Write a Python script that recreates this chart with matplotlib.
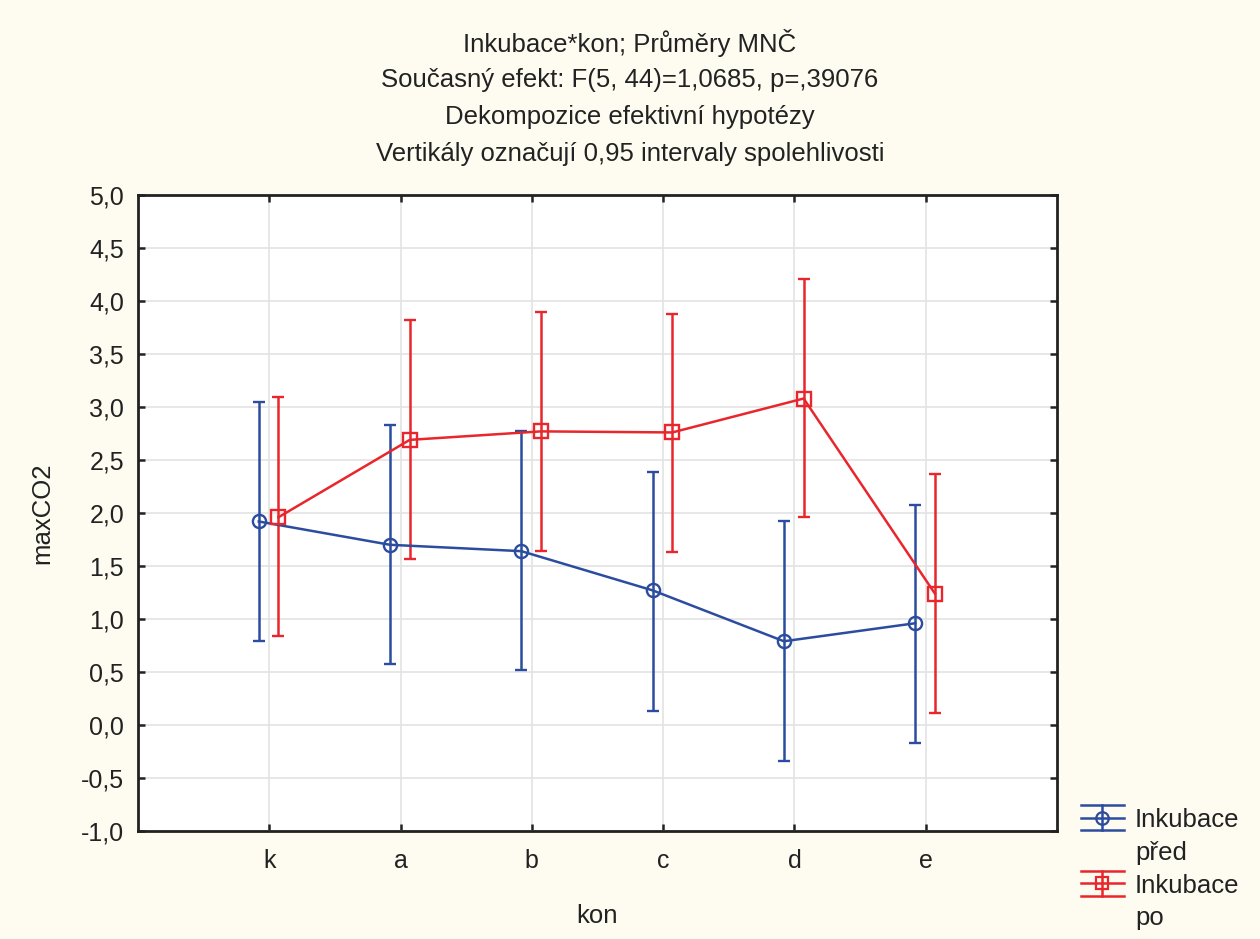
import numpy as np
import matplotlib
matplotlib.use("Agg")
from matplotlib import pyplot as plt
from matplotlib.ticker import FuncFormatter
from matplotlib.lines import Line2D
from matplotlib.legend_handler import HandlerBase

plt.rcParams['font.family'] = ['Liberation Sans', 'DejaVu Sans']

# data
kon = ['k', 'a', 'b', 'c', 'd', 'e']
pred_mean = [1.92, 1.70, 1.64, 1.27, 0.79, 0.96]
pred_low = [0.79, 0.58, 0.52, 0.13, -0.34, -0.17]
pred_high = [3.05, 2.83, 2.77, 2.39, 1.92, 2.08]
po_mean = [1.96, 2.69, 2.77, 2.76, 3.08, 1.24]
po_low = [0.84, 1.57, 1.64, 1.63, 1.96, 0.11]
po_high = [3.09, 3.82, 3.90, 3.88, 4.21, 2.37]

title_lines = ['Inkubace*kon; Průměry MNČ',
               'Současný efekt: F(5, 44)=1,0685, p=,39076',
               'Dekompozice efektivní hypotézy',
               'Vertikály označují 0,95 intervaly spolehlivosti']

blue = '#2b4c9f'
red = '#e8262b'
bg = '#fefbf0'
txt = '#222222'
fs = 18.5


# legend key like the STATISTICA one: wide caps, bar, marker on the first text line
class ErrKey(HandlerBase):
    def create_artists(self, legend, orig, xd, yd, w, h, fontsize, trans):
        lines = orig.lines[0]
        c = lines.get_color()
        m = lines.get_marker()
        cy = h / 2 - yd + 13.8
        half = 9
        arts = []
        for yy in (cy - half, cy, cy + half):
            arts.append(Line2D([-xd, -xd + w], [yy, yy], color=c, lw=1.8))
        arts.append(Line2D([-xd + w / 2] * 2, [cy - half, cy + half], color=c, lw=1.8))
        arts.append(Line2D([-xd + w / 2], [cy], marker=m, ms=9, mfc='none', mec=c, mew=1.6))
        for a in arts:
            a.set_transform(trans)
        return arts


fig = plt.figure(figsize=(12.6, 9.39), dpi=100, facecolor=bg)
ax = fig.add_axes([138/1260, 1-831/939, 919/1260, 636/939])
ax.set_facecolor('white')

x = np.arange(len(kon))
pm = np.array(pred_mean)
qm = np.array(po_mean)
err_pred = [pm - np.array(pred_low), np.array(pred_high) - pm]
err_po = [qm - np.array(po_low), np.array(po_high) - qm]

eb1 = ax.errorbar(x - 0.08, pm, yerr=err_pred, color=blue, lw=1.8, elinewidth=1.8,
                  capsize=4.5, capthick=1.8, marker='o', ms=9.5, mfc='none', mew=1.7,
                  label='Inkubace\npřed', zorder=3)
eb2 = ax.errorbar(x + 0.07, qm, yerr=err_po, color=red, lw=1.8, elinewidth=1.8,
                  capsize=4.5, capthick=1.8, marker='s', ms=9.5, mfc='none', mew=1.7,
                  label='Inkubace\npo', zorder=3)

ax.set_xlim(-1, 6)
ax.set_ylim(-1, 5)
ax.set_xticks(x)
ax.set_xticklabels(kon)
ax.set_yticks(np.arange(-1, 5.01, 0.5))
ax.yaxis.set_major_formatter(FuncFormatter(lambda v, p: f'{v:.1f}'.replace('.', ',')))
ax.grid(True, color='#e3e3e3', lw=1.2)
ax.set_axisbelow(True)
ax.tick_params(direction='in', length=5, width=1.8, labelsize=18, color=txt,
               labelcolor=txt, right=True, top=True)
ax.tick_params(axis='y', pad=10)
ax.tick_params(axis='x', pad=13)
for s in ax.spines.values():
    s.set_linewidth(2)
    s.set_color(txt)

ax.set_xlabel('kon', fontsize=fs, color=txt, labelpad=22)
ax.set_ylabel('maxCO2', fontsize=fs, color=txt, labelpad=19)

ys = [43, 80, 117, 154]
for t, yy in zip(title_lines, ys):
    fig.text(0.5, 1 - yy/939, t, ha='center', va='center', fontsize=fs, color=txt)

leg = fig.legend(handles=[eb1, eb2], loc='upper left',
                 bbox_to_anchor=(1058/1260, 1-785/939), frameon=False,
                 fontsize=fs, handlelength=1.65, labelspacing=0.35, handletextpad=0.45,
                 labelcolor=txt, handler_map={type(eb1): ErrKey()})
for t in leg.get_texts():
    t.set_linespacing(1.45)

fig.savefig('out.png', dpi=100, facecolor=bg)
